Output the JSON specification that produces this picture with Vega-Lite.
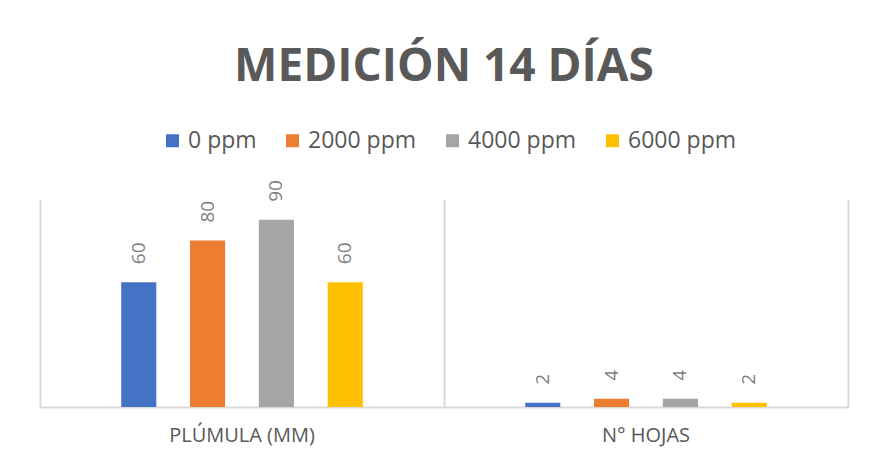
{
  "$schema": "https://vega.github.io/schema/vega-lite/v6.json",
  "autosize": "none",
  "width": 808,
  "height": 208,
  "padding": {"left": 40, "top": 199, "right": 21, "bottom": 57},
  "background": "white",
  "title": {
    "text": "MEDICIÓN  14 DÍAS",
    "font": "Open Sans",
    "fontSize": 46,
    "fontWeight": "bold",
    "color": "#595959",
    "anchor": "middle",
    "frame": "group",
    "baseline": "alphabetic",
    "offset": 2
  },
  "config": {
    "view": {"stroke": null},
    "font": "Open Sans"
  },
  "data": {
    "values": [
      {"cat": "PLÚMULA (MM)", "serie": "0 ppm", "valor": 60},
      {"cat": "PLÚMULA (MM)", "serie": "2000 ppm", "valor": 80},
      {"cat": "PLÚMULA (MM)", "serie": "4000 ppm", "valor": 90},
      {"cat": "PLÚMULA (MM)", "serie": "6000 ppm", "valor": 60},
      {"cat": "N° HOJAS", "serie": "0 ppm", "valor": 2},
      {"cat": "N° HOJAS", "serie": "2000 ppm", "valor": 4},
      {"cat": "N° HOJAS", "serie": "4000 ppm", "valor": 4},
      {"cat": "N° HOJAS", "serie": "6000 ppm", "valor": 2}
    ]
  },
  "encoding": {
    "x": {
      "field": "cat",
      "type": "nominal",
      "sort": ["PLÚMULA (MM)", "N° HOJAS"],
      "scale": {"paddingInner": 0, "paddingOuter": 0},
      "axis": {
        "title": null,
        "labelAngle": 0,
        "labelFont": "Open Sans",
        "labelFontSize": 20,
        "labelColor": "#595959",
        "labelPadding": 18,
        "ticks": false,
        "domainColor": "#d9d9d9",
        "domainWidth": 2,
        "grid": true,
        "gridColor": "#d9d9d9",
        "gridWidth": 2,
        "bandPosition": 1,
        "tickExtra": true
      }
    },
    "xOffset": {
      "field": "serie",
      "type": "nominal",
      "scale": {
        "domain": ["", "0 ppm", "2000 ppm", "4000 ppm", "6000 ppm", " "],
        "paddingInner": 0.49,
        "paddingOuter": 0.18
      }
    },
    "y": {
      "field": "valor",
      "type": "quantitative",
      "scale": {"domain": [0, 100]},
      "axis": null
    }
  },
  "layer": [
    {
      "mark": {"type": "bar"},
      "encoding": {
        "color": {
          "field": "serie",
          "type": "nominal",
          "scale": {
            "domain": ["0 ppm", "2000 ppm", "4000 ppm", "6000 ppm"],
            "range": ["#4472C4", "#ED7D31", "#A5A5A5", "#FFC000"]
          },
          "legend": {
            "title": null,
            "orient": "none",
            "direction": "horizontal",
            "legendX": 121,
            "legendY": -70,
            "padding": 0,
            "symbolType": "square",
            "symbolSize": 169,
            "symbolStrokeWidth": 0,
            "labelOffset": 4,
            "columnPadding": 24,
            "labelFont": "Open Sans",
            "labelFontSize": 23,
            "labelColor": "#595959"
          }
        }
      }
    },
    {
      "mark": {
        "type": "text",
        "angle": 270,
        "align": "left",
        "baseline": "middle",
        "dx": 18,
        "font": "Open Sans",
        "fontSize": 19,
        "color": "#7f7f7f"
      },
      "encoding": {
        "text": {"field": "valor", "type": "quantitative"}
      }
    }
  ]
}
